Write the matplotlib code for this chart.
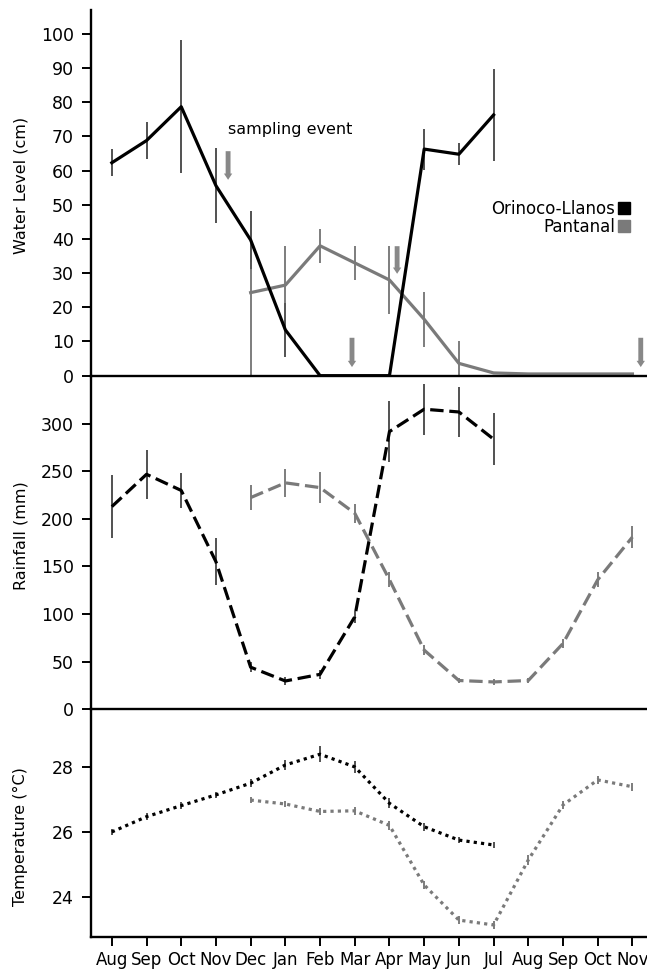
import numpy as np
import matplotlib; matplotlib.use('Agg')
import matplotlib.pyplot as plt
from matplotlib.lines import Line2D

plt.rcParams['font.family'] = 'DejaVu Sans'

months = ['Aug','Sep','Oct','Nov','Dec','Jan','Feb','Mar','Apr','May','Jun','Jul','Aug','Sep','Oct','Nov']
x_ori = np.arange(0, 12)      # Aug..Jul
x_pan = np.arange(4, 16)      # Dec..Nov

# water level (cm)
wl_ori     = [62.3, 68.8, 78.7, 55.6, 39.7, 13.4, 0, 0, 0, 66.3, 64.8, 76.3]
wl_ori_err = [4, 5.3, 19.5, 11, 8.5, 8, 0, 0, 0, 6, 3.2, 13.5]
wl_pan     = [24.3, 26.5, 38, 33, 28, 16.5, 3.6, 0.8, 0.5, 0.5, 0.5, 0.5]
wl_pan_lo  = [24.3, 11.5, 5, 5, 10, 8, 3.6, 0, 0, 0, 0, 0]
wl_pan_hi  = [9, 11.5, 5, 5, 10, 8, 6.5, 0, 0, 0, 0, 0]

# rainfall (mm)
rf_ori     = [213, 247, 230, 155, 44, 29.5, 36.5, 97, 292, 315.5, 312.6, 284]
rf_ori_err = [33, 26, 18, 25, 5, 4, 5, 6, 32, 27, 26, 27.5]
rf_pan     = [222.5, 238, 233, 206, 136, 62, 30, 28.5, 30, 69, 136, 181]
rf_pan_err = [13, 15, 16, 10, 8, 5, 3, 3, 3, 5, 8, 12]

# temperature (C)
t_ori     = [26.0, 26.47, 26.81, 27.14, 27.5, 28.06, 28.39, 28.0, 26.88, 26.16, 25.75, 25.6]
t_ori_err = [.08, .1, .1, .1, .12, .15, .25, .18, .15, .12, .1, .1]
t_pan     = [26.98, 26.86, 26.63, 26.65, 26.2, 24.37, 23.29, 23.14, 25.14, 26.83, 27.6, 27.39]
t_pan_err = [.1, .1, .12, .12, .15, .12, .12, .12, .15, .12, .12, .12]

# sampling events (month position, arrow top, arrow tip)
ev_x   = [3.35, 6.92, 8.22, 15.24]
ev_top = [66.5, 11.9, 38.7, 11.9]
ev_tip = [56.5, 1.7, 29.0, 1.7]

BLK = '#000000'; GRY = '#7a7a7a'; EBK = '#222222'; EGR = '#5a5a5a'

fig = plt.figure(figsize=(6.47, 9.75), dpi=100)
L, R = 91/647, 1.0
ax1 = fig.add_axes([L, 0.6147, R-L, 0.98974-0.6147])
ax2 = fig.add_axes([L, 0.2728, R-L, 0.6147-0.2728], sharex=ax1)
ax3 = fig.add_axes([L, 0.0393, R-L, 0.2728-0.0393], sharex=ax1)

# ---- water level ----
ax1.errorbar(x_ori, wl_ori, yerr=wl_ori_err, fmt='none', ecolor=EBK, elinewidth=1.1, capsize=0)
ax1.errorbar(x_pan, wl_pan, yerr=[wl_pan_lo, wl_pan_hi], fmt='none', ecolor=EGR, elinewidth=1.1, capsize=0)
ax1.plot(x_pan, wl_pan, color=GRY, lw=2.3, solid_joinstyle='round')
ax1.plot(x_ori, wl_ori, color=BLK, lw=2.3, solid_joinstyle='round')
for xe, yt, yb in zip(ev_x, ev_top, ev_tip):
    ax1.annotate('', xy=(xe, yb), xytext=(xe, yt),
                 arrowprops=dict(arrowstyle='simple,head_width=0.6,head_length=0.45,tail_width=0.35',
                                 color='#888888', lw=0))
ax1.text(3.35, 72, 'sampling event', fontsize=11.5, ha='left', va='center')
ax1.set_ylim(0, 107)
ax1.set_yticks(range(0, 101, 10))
ax1.set_ylabel('Water Level (cm)', fontsize=11.5)
ax1.yaxis.set_label_coords(-0.113, 0.521)
hs = [Line2D([], [], marker='s', ls='none', color=c, ms=8) for c in (BLK, GRY)]
ax1.legend(hs, ['Orinoco-Llanos', 'Pantanal'], markerfirst=False, frameon=False, fontsize=12,
           loc='center right', bbox_to_anchor=(0.985, 0.431), handletextpad=0.1,
           labelspacing=0.0, handlelength=0.8, borderpad=0)

# ---- rainfall ----
ax2.errorbar(x_ori, rf_ori, yerr=rf_ori_err, fmt='none', ecolor=EBK, elinewidth=1.1, capsize=0)
ax2.errorbar(x_pan, rf_pan, yerr=rf_pan_err, fmt='none', ecolor=EGR, elinewidth=1.1, capsize=0)
ax2.plot(x_pan, rf_pan, color=GRY, lw=2.3, dashes=(4.2, 1.8))
ax2.plot(x_ori, rf_ori, color=BLK, lw=2.3, dashes=(4.2, 1.8))
ax2.set_ylim(0, 350.8)
ax2.set_yticks(range(0, 301, 50))
ax2.set_ylabel('Rainfall (mm)', fontsize=11.5)
ax2.yaxis.set_label_coords(-0.113, 0.52)

# ---- temperature ----
ax3.errorbar(x_ori, t_ori, yerr=t_ori_err, fmt='none', ecolor=EBK, elinewidth=1.1, capsize=0)
ax3.errorbar(x_pan, t_pan, yerr=t_pan_err, fmt='none', ecolor=EGR, elinewidth=1.1, capsize=0)
ax3.plot(x_pan, t_pan, color=GRY, lw=2.3, dashes=(1, 1.3))
ax3.plot(x_ori, t_ori, color=BLK, lw=2.3, dashes=(1, 1.3))
ax3.set_ylim(22.78, 29.78)
ax3.set_yticks([24, 26, 28])
ax3.set_ylabel('Temperature (°C)', fontsize=11.5)
ax3.yaxis.set_label_coords(-0.113, 0.44)

ax3.set_xlim(-0.6, 15.42)
ax3.set_xticks(range(len(months)))
ax3.set_xticklabels(months)

for ax in (ax1, ax2, ax3):
    ax.patch.set_alpha(0)
    for s in ('top', 'right'):
        ax.spines[s].set_visible(False)
    for s in ('left', 'bottom'):
        ax.spines[s].set_linewidth(1.7)
    ax.tick_params(axis='y', direction='out', length=6.5, width=1.4, labelsize=12.5, pad=6)
    ax.tick_params(axis='x', direction='out', length=6.5, width=1.4, labelsize=12, pad=4)
for ax in (ax1, ax2):
    ax.tick_params(axis='x', bottom=False, labelbottom=False)

fig.savefig('out.png', dpi=100)
